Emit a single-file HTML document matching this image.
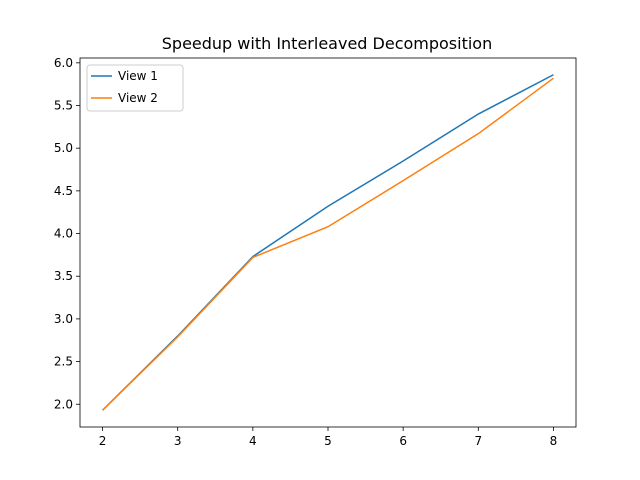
<!DOCTYPE html>
<html><head><meta charset="utf-8"><style>body{margin:0;background:#fff}svg{display:block;font-family:"DejaVu Sans","Liberation Sans",sans-serif}</style></head>
<body>
<svg id="c" width="640" height="480"></svg>
<script>
const categories=[2,3,4,5,6,7,8];
const view1=[1.93,2.80,3.73,4.32,4.85,5.40,5.86];
const view2=[1.93,2.79,3.72,4.08,4.62,5.17,5.82];
const yTicks=[2.0,2.5,3.0,3.5,4.0,4.5,5.0,5.5,6.0];
const yTickLabels=["2.0","2.5","3.0","3.5","4.0","4.5","5.0","5.5","6.0"];
const seriesNames=["View 1","View 2"];
const L=80,R=576,T=58,B=427;
const all=view1.concat(view2);
const ymin=Math.min(...all),ymax=Math.max(...all),ym=(ymax-ymin)*0.05;
const xmin=Math.min(...categories),xmax=Math.max(...categories),xm=(xmax-xmin)*0.05;
const X=v=>L+(v-(xmin-xm))/((xmax+xm)-(xmin-xm))*(R-L);
const Y=v=>B-(v-(ymin-ym))/((ymax+ym)-(ymin-ym))*(B-T);
const svg=document.getElementById('c');const NS='http://www.w3.org/2000/svg';
function mk(t,a,p){const e=document.createElementNS(NS,t);for(const k in a)e.setAttribute(k,a[k]);(p||svg).appendChild(e);return e;}
let t=mk('text',{x:327,y:49,'text-anchor':'middle','font-size':16,fill:'#000'});t.textContent='Speedup with Interleaved Decomposition';


categories.forEach(c=>{const x=X(c);mk('line',{x1:x,x2:x,y1:B,y2:B+4,stroke:'#000','stroke-width':0.8});
const l=mk('text',{x:x,y:B+18,'text-anchor':'middle','font-size':12});l.textContent=c;

});
yTicks.forEach((v,i)=>{const y=Y(v);mk('line',{x1:L-4,x2:L,y1:y,y2:y,stroke:'#000','stroke-width':0.8});
const l=mk('text',{x:L-7,y:y+4,'text-anchor':'end','font-size':12});l.textContent=yTickLabels[i];

});
const cols=['#1f77b4','#ff7f0e'];
[view1,view2].forEach((s,i)=>{const p=mk('polyline',{points:s.map((v,j)=>X(categories[j])+','+Y(v)).join(' '),fill:'none',stroke:cols[i],'stroke-width':1.5});

});
const fr=mk('rect',{x:L,y:T,width:R-L,height:B-T,fill:'none',stroke:'#000','stroke-width':0.8});


const lg=mk('g',{});


mk('rect',{x:87,y:65,width:96,height:46,rx:3,fill:'#fff',stroke:'#ccc','stroke-width':1},lg);
seriesNames.forEach((n,i)=>{const y=76+i*22;mk('line',{x1:91,x2:112,y1:y,y2:y,stroke:cols[i],'stroke-width':1.5},lg);
const l=mk('text',{x:118,y:y+4,'font-size':12},lg);l.textContent=n;

});
</script>
</body></html>
